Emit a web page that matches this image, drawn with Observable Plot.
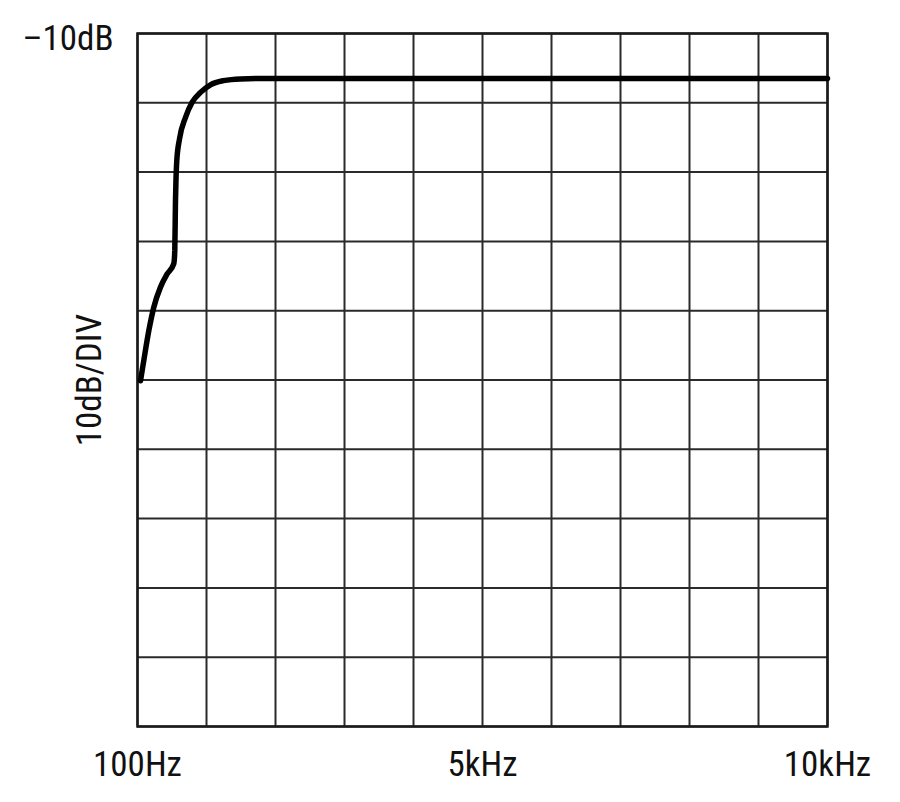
<!DOCTYPE html>
<html>
<head>
<meta charset="utf-8">
<script src="https://cdn.jsdelivr.net/npm/d3@7"></script>
<script src="https://cdn.jsdelivr.net/npm/@observablehq/plot@0.6"></script>
<style>
  html, body { margin: 0; padding: 0; background: #fff; }
  #chart { width: 900px; height: 802px; }
  svg { font-family: "Roboto Condensed", "DejaVu Sans Condensed", sans-serif; }
</style>
</head>
<body>
<div id="chart"></div>
<script>
// Frequency (Hz) and response (dB)
const freqHz = [143, 190, 262, 334, 430, 526, 621, 635, 645, 652, 664, 703, 789, 885, 1004, 1147, 1334, 1578, 1865, 3000, 5000, 7500, 10000];
const levelDb = [-60.1, -57.2, -52.9, -49.5, -46.6, -44.7, -43.2, -41.3, -34.1, -31.2, -28.3, -25.2, -22.1, -19.9, -18.5, -17.4, -16.8, -16.55, -16.5, -16.5, -16.5, -16.5, -16.5];

// Axis settings from the picture
const xDomain = [100, 10000];
const yDomain = [-110, -10];
const xGridValues = [100, 1090, 2080, 3070, 4060, 5050, 6040, 7030, 8020, 9010, 10000];
const yGridValues = [-110, -100, -90, -80, -70, -60, -50, -40, -30, -20, -10];
const xTickValues = [100, 5050, 10000];
const xTickLabels = ["100Hz", "5kHz", "10kHz"];
const yTickValues = [-10];
const yTickLabels = ["\u201310dB"];
const yAxisLabel = "10dB/DIV";

const data = freqHz.map((f, i) => ({f, db: levelDb[i]}));
const FS = 35;

const chart = Plot.plot({
  width: 900,
  height: 802,
  marginLeft: 137,
  marginRight: 73,
  marginTop: 33,
  marginBottom: 76,
  style: {fontSize: FS + "px", color: "#111", background: "#fff"},
  x: {domain: xDomain, type: "linear"},
  y: {domain: yDomain, type: "linear"},
  marks: [
    Plot.gridX(xGridValues, {stroke: "#2a2a2a", strokeOpacity: 1, strokeWidth: 2}),
    Plot.gridY(yGridValues, {stroke: "#2a2a2a", strokeOpacity: 1, strokeWidth: 2}),
    Plot.frame({stroke: "#1a1a1a", strokeWidth: 2.5}),
    Plot.axisX({
      ticks: xTickValues,
      tickSize: 0,
      tickPadding: 25,
      fontSize: FS,
      tickFormat: (d) => xTickLabels[xTickValues.indexOf(d)],
      label: null
    }),
    Plot.axisY({
      ticks: yTickValues,
      tickSize: 0,
      tickPadding: 24,
      dy: 5,
      fontSize: FS,
      tickFormat: (d) => yTickLabels[yTickValues.indexOf(d)],
      label: null
    }),
    Plot.axisY({
      ticks: [],
      tickSize: 0,
      fontSize: FS,
      label: yAxisLabel,
      labelAnchor: "center",
      labelArrow: "none",
      labelOffset: 61
    }),
    Plot.line(data, {x: "f", y: "db", stroke: "#000", strokeWidth: 5.5, curve: "monotone-x"})
  ]
});
document.getElementById("chart").append(chart);
</script>
</body>
</html>
